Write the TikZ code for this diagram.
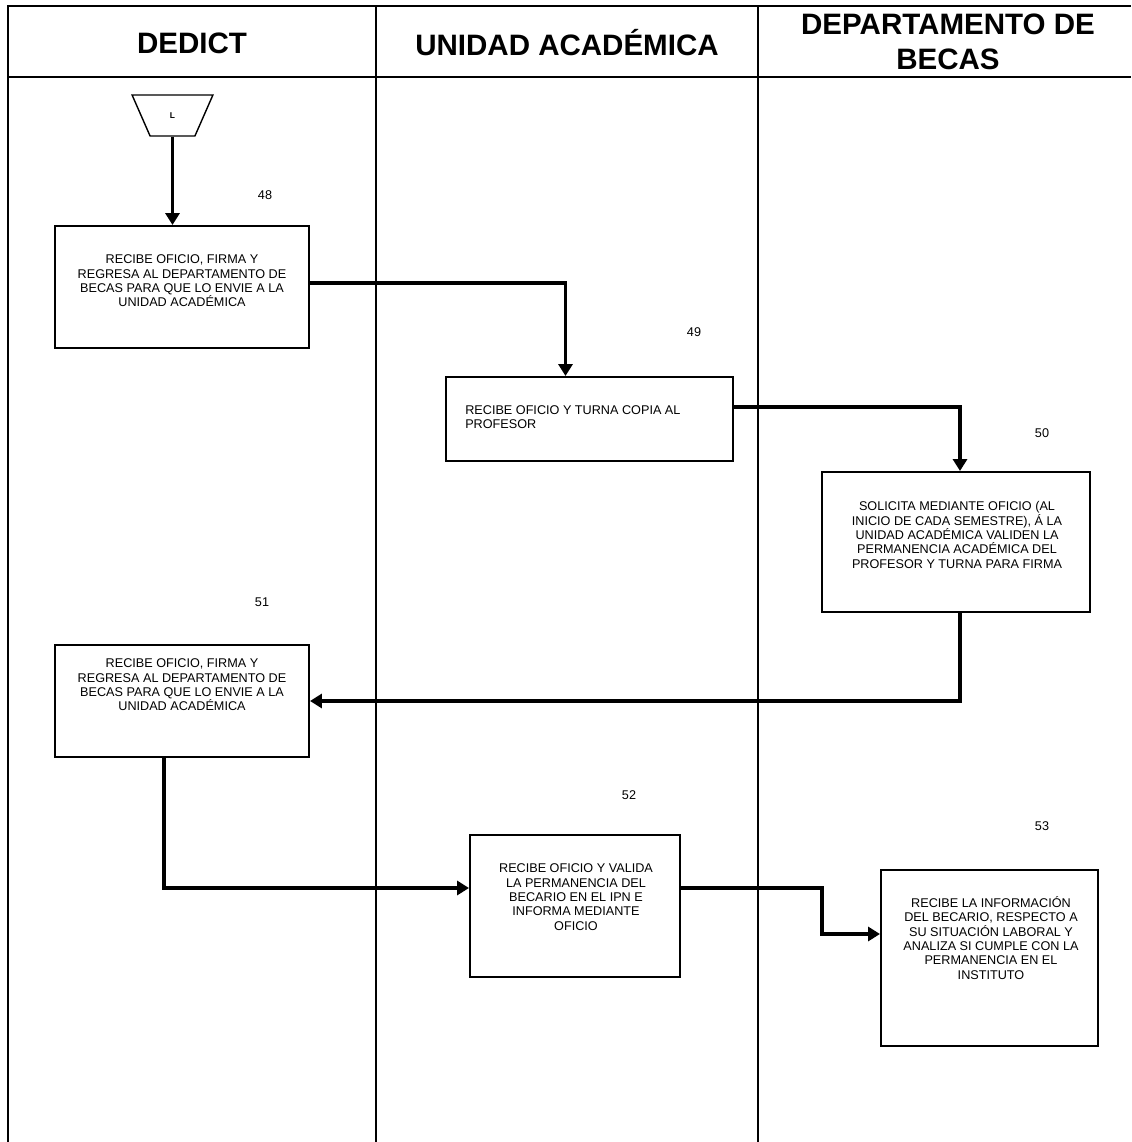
\documentclass[tikz,border=0pt]{standalone}
\usepackage{fontspec}
\setmainfont{Liberation Sans}
\usetikzlibrary{arrows.meta,shapes.geometric}

\begin{document}
\begin{tikzpicture}[x=0.025cm, y=-0.025cm,
    caja/.style={draw, line width=1.4pt, inner sep=0pt},
    texto/.style={align=center, inner sep=0pt, font=\fontsize{9}{10.2}\selectfont},
    num/.style={inner sep=0pt, font=\fontsize{9}{10}\selectfont},
    titulo/.style={align=center, inner sep=0pt, font=\fontsize{21}{24.8}\selectfont\bfseries},
    flecha/.style={line width=2.6pt, -{Triangle[length=8.5pt,width=10pt]}},
    carril/.style={line width=1pt}]
    \useasboundingbox (0,0) rectangle (1131,1142);
    % carriles
    \draw[carril] (8,1142) -- (8,6) -- (1131,6);
    \draw[carril] (8,77) -- (1131,77);
    \draw[carril] (376,6) -- (376,1142);
    \draw[carril] (758,6) -- (758,1142);
    \node[titulo] (dedict) at (192,43) {DEDICT};
    \node[titulo] (unidad) at (567,43) {UNIDAD ACADÉMICA};
    \node[titulo] (becas) at (948,41.5) {DEPARTAMENTO DE\\BECAS};

    % conector de entrada
    \node[draw, trapezium, shape border rotate=180, trapezium stretches=true,
        trapezium angle=69, minimum width=2.02cm, minimum height=1.025cm,
        line width=1pt, font=\fontsize{6}{6}\selectfont\bfseries] (L) at (172.5,115.5) {L};

    % actividades
    \node[caja, minimum width=6.35cm, minimum height=3.05cm] (b48) at (182,287) {};
    \node[texto] (t48) at (182,281) {RECIBE OFICIO, FIRMA Y\\REGRESA AL DEPARTAMENTO DE\\BECAS PARA QUE LO ENVIE A LA\\UNIDAD ACADÉMICA};
    \node[num] (n48) at (265,195) {48};

    \node[caja, minimum width=7.175cm, minimum height=2.1cm] (b49) at (589.5,419) {};
    \node[texto, align=left, anchor=west] (t49) at (465,417) {RECIBE OFICIO Y TURNA COPIA AL\\PROFESOR};
    \node[num] (n49) at (694,332) {49};

    \node[caja, minimum width=6.7cm, minimum height=3.5cm] (b50) at (956,542) {};
    \node[texto] (t50) at (957,535) {SOLICITA MEDIANTE OFICIO (AL\\INICIO DE CADA SEMESTRE), Á LA\\UNIDAD ACADÉMICA VALIDEN LA\\PERMANENCIA ACADÉMICA DEL\\PROFESOR Y TURNA PARA FIRMA};
    \node[num] (n50) at (1042,433) {50};

    \node[caja, minimum width=6.35cm, minimum height=2.8cm] (b51) at (182,701) {};
    \node[texto] (t51) at (182,685) {RECIBE OFICIO, FIRMA Y\\REGRESA AL DEPARTAMENTO DE\\BECAS PARA QUE LO ENVIE A LA\\UNIDAD ACADÉMICA};
    \node[num] (n51) at (262,602) {51};

    \node[caja, minimum width=5.25cm, minimum height=3.55cm] (b52) at (575,906) {};
    \node[texto] (t52) at (576,897) {RECIBE OFICIO Y VALIDA\\LA PERMANENCIA DEL\\BECARIO EN EL IPN E\\INFORMA MEDIANTE\\OFICIO};
    \node[num] (n52) at (629,795) {52};

    \node[caja, minimum width=5.425cm, minimum height=4.4cm] (b53) at (989.5,958) {};
    \node[texto] (t53) at (991,938) {RECIBE LA INFORMACIÓN\\DEL BECARIO, RESPECTO A\\SU SITUACIÓN LABORAL Y\\ANALIZA SI CUMPLE CON LA\\PERMANENCIA EN EL\\INSTITUTO};
    \node[num] (n53) at (1042,826) {53};

    % flujo
    \draw[flecha] (L.south) -- (L.south |- b48.north);
    \draw[flecha] ([yshift=0.1cm]b48.east) -| ([xshift=-0.6cm]b49.north);
    \draw[flecha] ([yshift=0.3cm]b49.east) -| ([xshift=0.1cm]b50.north);
    \draw[flecha] ([xshift=0.1cm]b50.south) |- (b51.east);
    \draw[flecha] ([xshift=-0.45cm]b51.south) |- ([yshift=0.45cm]b52.west);
    \draw[flecha] ([yshift=0.45cm]b52.east) -- ++(141,0) |- ([yshift=0.6cm]b53.west);
\end{tikzpicture}
\end{document}
